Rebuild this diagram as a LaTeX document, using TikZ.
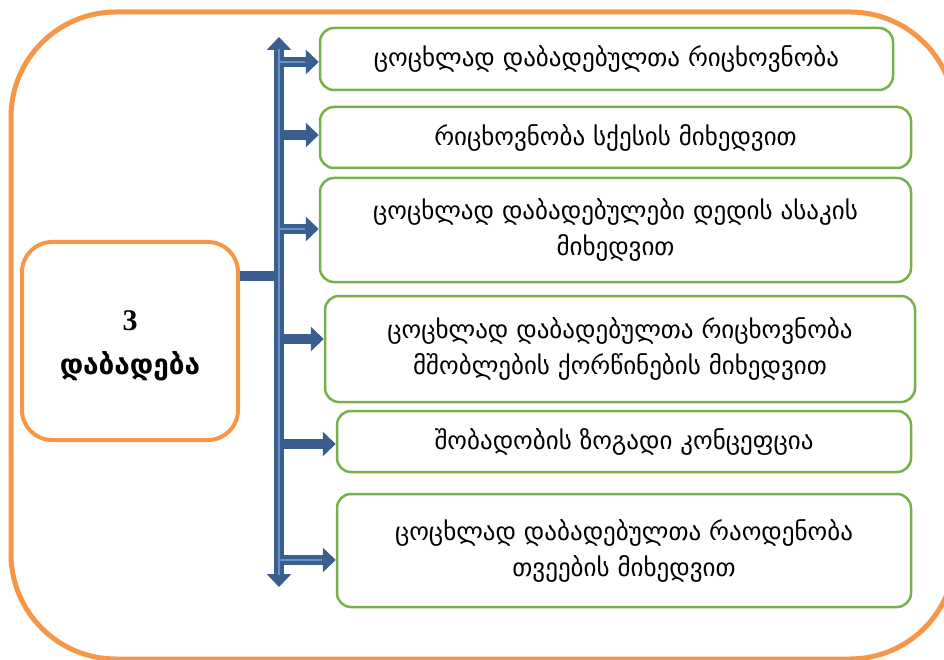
\documentclass[tikz,border=0pt]{standalone}
\usepackage{fontspec}
\setmainfont{Liberation Serif}
\newfontfamily\geo{DejaVu Sans}
\usetikzlibrary{arrows.meta}
\definecolor{orng}{HTML}{F79646}
\definecolor{grn}{HTML}{77B04A}
\definecolor{blu}{HTML}{3A5E8E}
\definecolor{blul}{HTML}{6A90C4}
\begin{document}
\begin{tikzpicture}[x=1pt,y=-1pt,
  item/.style={draw=grn, line width=2.5pt, rounded corners=14pt, align=center,
    font=\geo\fontsize{25}{36}\selectfont, inner sep=0pt},
  mainbox/.style={draw=orng, line width=4pt, rounded corners=30pt,
    minimum width=216pt, minimum height=198pt},
  maintext/.style={align=center, inner sep=0pt,
    font=\fontsize{30}{44}\selectfont\bfseries},
  trunkline/.style={draw=blu, line width=10pt,
    {Triangle[width=24pt,length=13pt]}-{Triangle[width=24pt,length=13pt]}},
  branch/.style={draw=blu, line width=10pt, -{Triangle[width=24pt,length=13pt]}},
  feeder/.style={draw=blu, line width=10pt},
  shine/.style={draw=blul, line width=1.2pt}]
\useasboundingbox (0,0) rectangle (944,660);
\clip (0,0) rectangle (944,660);
\draw[orng, line width=5pt, rounded corners=105pt] (11,12) rectangle (955,659);

\node[mainbox] (L) at (130,341) {};
\node[maintext] (Lt) at (130,346) {3\\{\geo\bfseries\fontsize{28}{44}\selectfont დაბადება}};

\node[item, minimum width=573pt, minimum height=62pt] (b1) at (606.5,59)
  {ცოცხლად დაბადებულთა რიცხოვნობა};
\node[item, minimum width=591pt, minimum height=61pt] (b2) at (615.5,137.5)
  {რიცხოვნობა სქესის მიხედვით};
\node[item, minimum width=591pt, minimum height=104pt] (b3) at (615.5,230)
  {ცოცხლად დაბადებულები დედის ასაკის\\მიხედვით};
\node[item, minimum width=590pt, minimum height=106pt] (b4) at (620,349)
  {ცოცხლად დაბადებულთა რიცხოვნობა\\მშობლების ქორწინების მიხედვით};
\node[item, minimum width=574pt, minimum height=61pt] (b5) at (624,441.5)
  {შობადობის ზოგადი კონცეფცია};
\node[item, minimum width=574pt, minimum height=113pt] (b6) at (624,550.5)
  {ცოცხლად დაბადებულთა რაოდენობა\\თვეების მიხედვით};

\coordinate (top) at (279,37);
\coordinate (bot) at (279,587);
\coordinate (j) at (279,276);
\coordinate (t1) at (279,62);
\coordinate (t2) at (279,135);
\coordinate (t3) at (279,229);
\coordinate (t4) at (279,339);
\coordinate (t5) at (279,444);
\coordinate (t6) at (279,560);

\draw[trunkline] (top) -- (bot);
\draw[feeder] (L.east |- j) -- (j);
\draw[branch] (t1) -- (b1.west |- t1);
\draw[branch] (t2) -- (b2.west |- t2);
\draw[branch] (t3) -- (b3.west |- t3);
\draw[branch] (t4) -- (b4.west |- t4);
\draw[branch] (t5) -- (b5.west |- t5);
\draw[branch] (t6) -- (b6.west |- t6);

\draw[shine] ([yshift=-12pt]top) -- ([yshift=12pt]bot);
\draw[shine] (t1) -- ([xshift=-14pt]b1.west |- t1);
\draw[shine] (t3) -- ([xshift=-14pt]b3.west |- t3);
\draw[shine] (t6) -- ([xshift=-14pt]b6.west |- t6);
\end{tikzpicture}
\end{document}
